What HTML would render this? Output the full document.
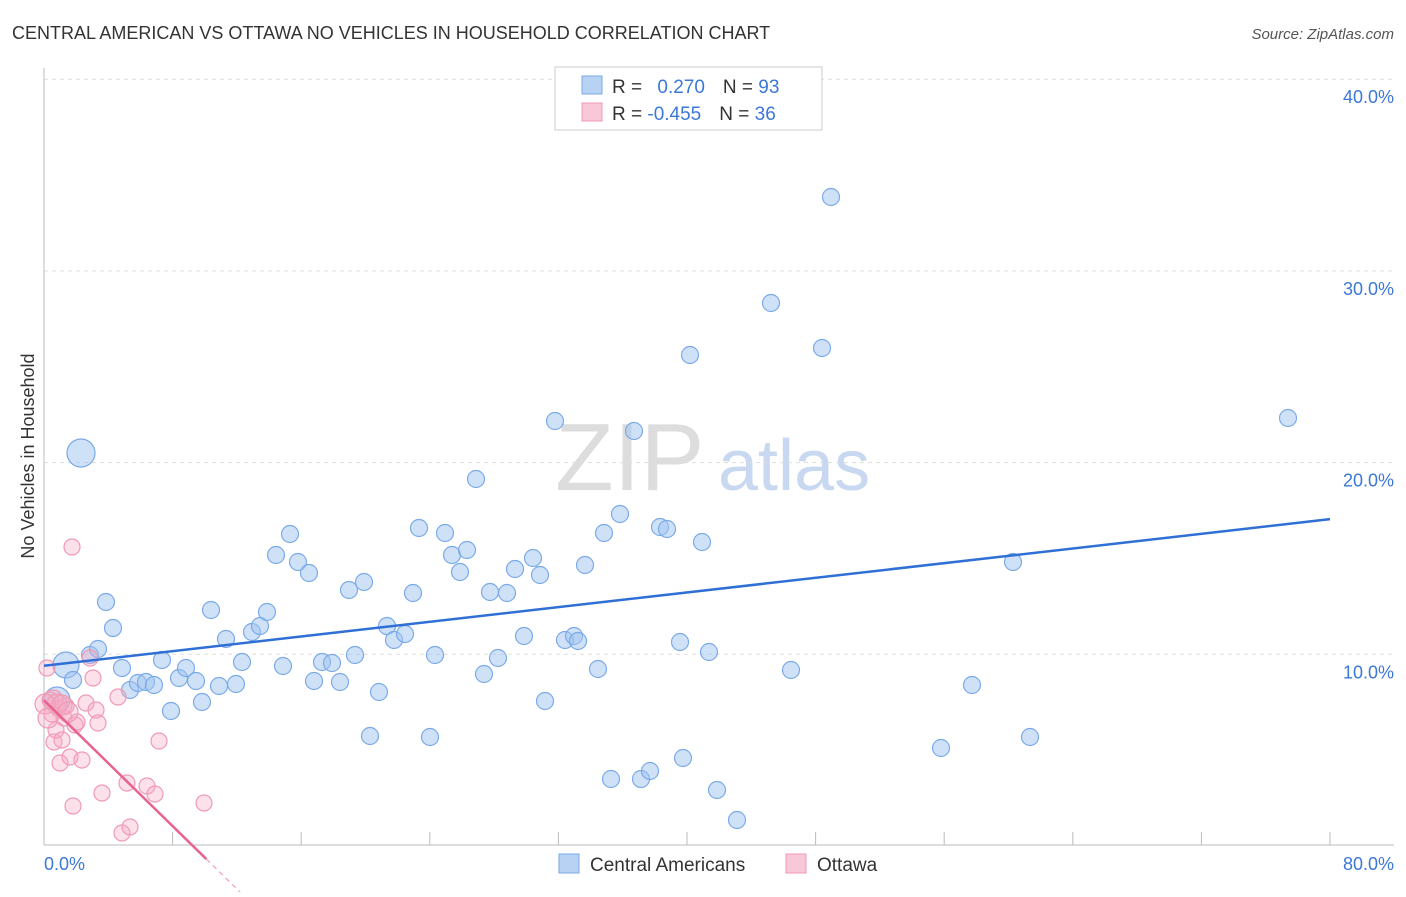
<!DOCTYPE html>
<html><head><meta charset="utf-8"><style>
body{margin:0;background:#fff;font-family:"Liberation Sans",sans-serif;}
svg text{font-family:"Liberation Sans",sans-serif;}
</style></head><body>
<svg width="1406" height="892" viewBox="0 0 1406 892">
<text x="12" y="39" font-size="18" fill="#333">CENTRAL AMERICAN VS OTTAWA NO VEHICLES IN HOUSEHOLD CORRELATION CHART</text>
<text x="1394" y="39" font-size="15" fill="#555" font-style="italic" text-anchor="end">Source: ZipAtlas.com</text>
<text x="34" y="456" font-size="18" fill="#333" text-anchor="middle" transform="rotate(-90 34 456)">No Vehicles in Household</text>
<text x="555" y="490" font-size="96" fill="#ddd" font-family="Liberation Serif">ZIP</text>
<text x="718" y="490" font-size="72" fill="#c8d8f0">atlas</text>
<g id="grid"></g>
<line x1="44" y1="68" x2="44" y2="845" stroke="#bbb"/>
<line x1="44" y1="845" x2="1394" y2="845" stroke="#bbb"/>
<g id="xt"></g>
<g id="pts"></g>
<g id="lines"></g>
<text x="44" y="870" font-size="18" fill="#3b78d8">0.0%</text>
<text x="1394" y="870" font-size="18" fill="#3b78d8" text-anchor="end">80.0%</text>
<g>
<rect x="555" y="67" width="267" height="63" fill="#fff" stroke="#ccc"/>
<rect x="582" y="76" width="20" height="18" fill="#b8d2f4" stroke="#7aaae8"/>
<rect x="582" y="103" width="20" height="18" fill="#f8c8d8" stroke="#f09ab5"/>
<text x="612" y="93" font-size="19" fill="#333">R = <tspan fill="#3b78d8" dx="10">0.270</tspan><tspan dx="18">N = </tspan><tspan fill="#3b78d8">93</tspan></text>
<text x="612" y="120" font-size="19" fill="#333">R = <tspan fill="#3b78d8">-0.455</tspan><tspan dx="18">N = </tspan><tspan fill="#3b78d8">36</tspan></text>
</g>
<g>
<rect x="559" y="854" width="20" height="19" fill="#b8d2f4" stroke="#7aaae8"/>
<text x="590" y="871" font-size="19" fill="#333">Central Americans</text></g>
<g>
<rect x="786" y="854" width="20" height="19" fill="#f8c8d8" stroke="#f09ab5"/>
<text x="817" y="871" font-size="19" fill="#333">Ottawa</text></g>
</svg>
<script>
const yTicks=[10,20,30,40];
const xTickVals=[0,8,16,24,32,40,48,56,64,72,80];
const bluePx=[[81,453],[66,665],[57,700],[73,680],[90,655],[98,649],[106,602],[113,628],[122,668],[130,690],[138,683],[146,682],[154,685],[162,660],[171,711],[179,678],[186,668],[196,681],[202,702],[211,610],[219,686],[226,639],[236,684],[242,662],[252,632],[260,626],[267,612],[276,555],[283,666],[290,534],[298,562],[309,573],[314,681],[322,662],[332,663],[340,682],[349,590],[355,655],[364,582],[370,736],[379,692],[387,626],[394,640],[405,634],[413,593],[419,528],[430,737],[435,655],[445,533],[452,555],[460,572],[467,550],[476,479],[484,674],[490,592],[498,658],[507,593],[515,569],[524,636],[533,558],[540,575],[545,701],[555,421],[565,640],[574,636],[578,641],[585,565],[598,669],[604,533],[611,779],[620,514],[634,431],[641,779],[650,771],[660,527],[667,529],[680,642],[683,758],[690,355],[702,542],[709,652],[717,790],[737,820],[771,303],[791,670],[822,348],[831,197],[941,748],[972,685],[1013,562],[1030,737],[1288,418]];
const pinkPx=[[47,668],[50,700],[52,714],[54,742],[56,730],[58,708],[60,763],[62,740],[64,718],[66,706],[70,757],[72,547],[73,806],[75,725],[77,722],[82,760],[86,703],[90,658],[93,678],[96,710],[98,723],[102,793],[118,697],[122,833],[127,783],[130,827],[147,786],[155,794],[159,741],[204,803],[53,700],[57,704],[62,705],[68,712],[45,704],[48,718]];
// data values (x %, y %)
const blueX=bluePx.map(p=>(p[0]-44)/16.075), blueY=bluePx.map(p=>(846-p[1])/19.17);
const pinkX=pinkPx.map(p=>(p[0]-44)/16.075), pinkY=pinkPx.map(p=>(846-p[1])/19.17);
const blueSize=[14,13,13];
const blueFit=[9.4,17.05], pinkFit=[7.6,-0.6];
const X=v=>44+v*16.075, Y=v=>846-v*19.17;
const NS="http://www.w3.org/2000/svg";
function mk(t,a,p){const e=document.createElementNS(NS,t);for(const k in a)e.setAttribute(k,a[k]);p.appendChild(e);return e;}
const g=document.getElementById('grid');
yTicks.forEach(t=>{
const l=mk('line',{x1:44,x2:1394,y1:Y(t),y2:Y(t),stroke:'#ddd','stroke-dasharray':'4 4'},g);


const tx=mk('text',{x:1394,y:Y(t)+24,'font-size':18,fill:'#3b78d8','text-anchor':'end'},g);
tx.textContent=t.toFixed(1)+'%';


});
const xt=document.getElementById('xt');
xTickVals.forEach(v=>{
const l=mk('line',{x1:X(v),x2:X(v),y1:832,y2:845,stroke:'#bbb'},xt);


});
const pts=document.getElementById('pts');
blueX.forEach((x,i)=>{
const c=mk('circle',{cx:X(x),cy:Y(blueY[i]),r:blueSize[i]||8.5,fill:'rgba(160,195,240,0.5)',stroke:'#7aaae8','stroke-width':1.2},pts);


});
pinkX.forEach((x,i)=>{
const c=mk('circle',{cx:X(x),cy:Y(pinkY[i]),r:i>=30?10:8,fill:'rgba(245,170,195,0.35)',stroke:'#f09ab5','stroke-width':1.2},pts);


});
const ln=document.getElementById('lines');
const bl=mk('line',{x1:X(0),y1:Y(blueFit[0]),x2:X(80),y2:Y(blueFit[0]+(blueFit[1]-blueFit[0])),stroke:'#2f6fd6','stroke-width':2.5},ln);


const slope=(pinkFit[1]-pinkFit[0])/80*8;
const pl=mk('line',{x1:X(0),y1:Y(pinkFit[0]),x2:X(10.1),y2:Y(pinkFit[0]+slope*10.1),stroke:'#e8638f','stroke-width':2.5},ln);


const pd=mk('line',{x1:X(10.1),y1:Y(pinkFit[0]+slope*10.1),x2:X(12.8),y2:Y(pinkFit[0]+slope*12.8),stroke:'#f0a0b8','stroke-width':1.2,'stroke-dasharray':'5 4'},ln);


</script>
</body></html>
